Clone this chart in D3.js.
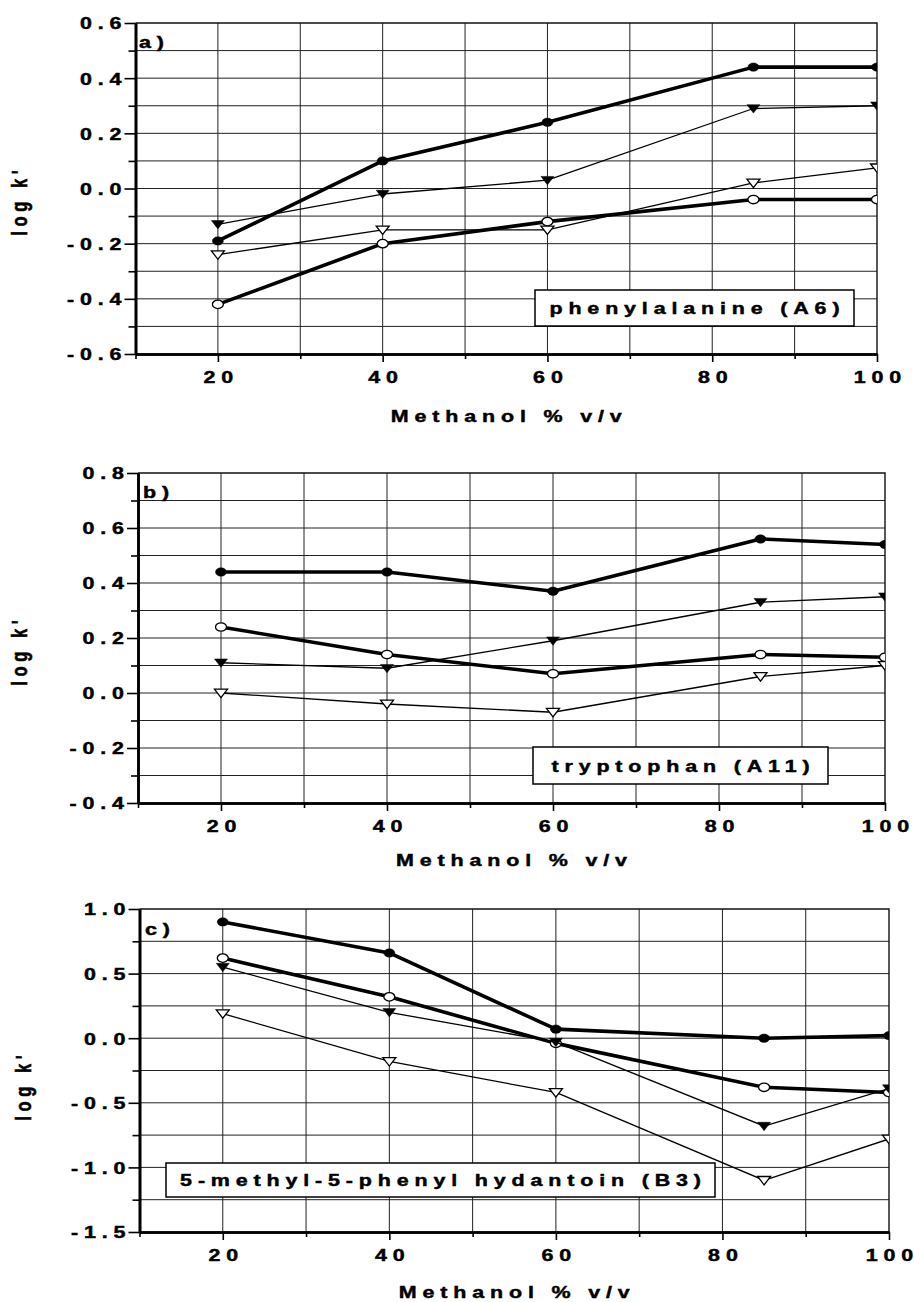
<!DOCTYPE html>
<html>
<head>
<meta charset="utf-8">
<script src="https://cdn.jsdelivr.net/npm/d3@7"></script>
<style>
  body { margin: 0; background: #fff; }
  svg text { font-family: "Liberation Sans", Arial, Helvetica, sans-serif; font-weight: bold; fill: #000; stroke: #000; stroke-width: 0.45px; }
</style>
</head>
<body>
<svg id="chart" width="914" height="1302"></svg>
<script>
// methanol content, % v/v
const methanol = [20, 40, 60, 85, 100];

// a) phenylalanine (A6)
const phenFilledCircle = [-0.19, 0.10, 0.24, 0.44, 0.44];
const phenOpenCircle = [-0.42, -0.20, -0.12, -0.04, -0.04];
const phenFilledTri = [-0.13, -0.02, 0.03, 0.29, 0.30];
const phenOpenTri = [-0.24, -0.15, -0.15, 0.02, 0.075];

// b) tryptophan (A11)
const trpFilledCircle = [0.44, 0.44, 0.37, 0.56, 0.54];
const trpOpenCircle = [0.24, 0.14, 0.07, 0.14, 0.13];
const trpFilledTri = [0.11, 0.09, 0.19, 0.33, 0.35];
const trpOpenTri = [0.00, -0.04, -0.07, 0.06, 0.10];

// c) 5-methyl-5-phenyl hydantoin (B3)
const hydFilledCircle = [0.90, 0.66, 0.07, 0.00, 0.02];
const hydOpenCircle = [0.62, 0.32, -0.04, -0.38, -0.42];
const hydFilledTri = [0.55, 0.20, -0.03, -0.68, -0.39];
const hydOpenTri = [0.19, -0.18, -0.42, -1.10, -0.78];

const xDomain = [10, 100];
const xTicks = [20, 40, 60, 80, 100];
const xMinor = [10, 30, 50, 70, 90];
const xGrid = [20, 30, 40, 50, 60, 70, 80, 90];

const yMajorA = [-0.6, -0.4, -0.2, 0, 0.2, 0.4, 0.6];
const yMinorA = [-0.5, -0.3, -0.1, 0.1, 0.3, 0.5];
const yMajorB = [-0.4, -0.2, 0, 0.2, 0.4, 0.6, 0.8];
const yMinorB = [-0.3, -0.1, 0.1, 0.3, 0.5, 0.7];
const yMajorC = [-1.5, -1.0, -0.5, 0, 0.5, 1.0];
const yMinorC = [-1.25, -0.75, -0.25, 0.25, 0.75];

const xTitle = "Methanol % v/v";
const yTitle = "log  k'";

const panels = [
    {
        letter: "a)", name: "phenylalanine (A6)", yDomain: [-0.6, 0.6], yMajor: yMajorA, yMinor: yMinorA,
        series: [phenFilledCircle, phenOpenCircle, phenFilledTri, phenOpenTri],
        left: 135.5, right: 877, top: 23, bottom: 354,
        box: [535, 290, 319, 36], yTitleX: 27, yTitleY: 203, xTitleY: 422, letterPos: [139, 48]
    },
    {
        letter: "b)", name: "tryptophan (A11)", yDomain: [-0.4, 0.8], yMajor: yMajorB, yMinor: yMinorB,
        series: [trpFilledCircle, trpOpenCircle, trpFilledTri, trpOpenTri],
        left: 138, right: 885, top: 473, bottom: 803,
        box: [533, 747, 295, 37], yTitleX: 27, yTitleY: 653, xTitleY: 866, letterPos: [143, 498]
    },
    {
        letter: "c)", name: "5-methyl-5-phenyl hydantoin (B3)", yDomain: [-1.5, 1.0], yMajor: yMajorC, yMinor: yMinorC,
        series: [hydFilledCircle, hydOpenCircle, hydFilledTri, hydOpenTri],
        left: 139.5, right: 889, top: 909, bottom: 1232,
        box: [166, 1163, 549, 34], yTitleX: 31, yTitleY: 1088, xTitleY: 1298, letterPos: [145, 935]
    }
];

// style per series: filled circle, open circle, filled triangle, open triangle
const styles = [
    { width: 3.6, shape: "circle", fill: "#000" },
    { width: 3.6, shape: "circle", fill: "#fff" },
    { width: 1.3, shape: "tri", fill: "#000" },
    { width: 1.3, shape: "tri", fill: "#fff" }
];

const sx = 1.3;        // wide type
const spacing = 4.5;   // letter spacing before stretch
const fontSize = "16.5px";

const svg = d3.select("#chart");
svg.append("rect").attr("width", 914).attr("height", 1302).attr("fill", "#fff");

const addText = (g, x, y, str, anchor, rotate) => {
    // the type is stretched along the page width, so a rotated title gets it across its height
    const ls = rotate ? 4.6 : spacing
    const t = g.append("text")
        .attr("transform", "translate(" + x + "," + y + ")" + (rotate ? " rotate(-90) scale(1," + sx + ")" : " scale(" + sx + ",1)"))
        .attr("text-anchor", anchor)
        .style("font-size", fontSize)
        .style("letter-spacing", ls + "px")
        .text(str)
    if (anchor === "middle") t.attr("dx", ls / 2)
    if (anchor === "end") t.attr("dx", ls)
    return t
}

panels.forEach((p, pi) => {
    const g = svg.append("g")

    const x = d3.scaleLinear().domain(xDomain).range([p.left, p.right])
    const y = d3.scaleLinear().domain(p.yDomain).range([p.bottom, p.top])

    // grid
    g.append("g").selectAll("line")
        .data(xGrid)
        .enter()
        .append("line")
        .attr("x1", d => x(d)).attr("x2", d => x(d))
        .attr("y1", p.top).attr("y2", p.bottom)
        .attr("stroke", "#222").attr("stroke-width", 1)

    g.append("g").selectAll("line")
        .data(p.yMajor.concat(p.yMinor).filter(d => d > p.yDomain[0] && d < p.yDomain[1]))
        .enter()
        .append("line")
        .attr("x1", p.left).attr("x2", p.right)
        .attr("y1", d => y(d)).attr("y2", d => y(d))
        .attr("stroke", "#222").attr("stroke-width", 1)

    // frame top and right
    g.append("path")
        .attr("d", "M" + p.left + "," + p.top + "H" + p.right + "V" + p.bottom)
        .attr("fill", "none").attr("stroke", "#111").attr("stroke-width", 1.4)

    // annotation box
    const [bx, by, bw, bh] = p.box
    g.append("rect")
        .attr("x", bx).attr("y", by).attr("width", bw).attr("height", bh)
        .attr("fill", "#fff").attr("stroke", "#000").attr("stroke-width", 1.5)
    addText(g, bx + bw / 2, by + bh / 2 + 6, p.name, "middle")

    // series
    const clipId = "clip" + pi
    g.append("clipPath").attr("id", clipId)
        .append("rect")
        .attr("x", p.left - 30).attr("y", p.top - 30)
        .attr("width", p.right - p.left + 30).attr("height", p.bottom - p.top + 60)

    const plot = g.append("g").attr("clip-path", "url(#" + clipId + ")")
    const line = d3.line().x(d => x(d[0])).y(d => y(d[1]))

    p.series.forEach((vals, si) => {
        const st = styles[si]
        const pts = methanol.map((m, i) => [m, vals[i]])
        plot.append("path")
            .datum(pts)
            .attr("d", line)
            .attr("fill", "none")
            .attr("stroke", "#000")
            .attr("stroke-width", st.width)
            .attr("stroke-linejoin", "round")

        const marks = plot.append("g").selectAll("path")
            .data(pts)
            .enter()
            .append("path")
            .attr("transform", d => "translate(" + x(d[0]) + "," + y(d[1]) + ")")
            .attr("fill", st.fill)
            .attr("stroke", "#000")
            .attr("stroke-width", st.fill === "#000" ? 0.5 : 1.3)
        if (st.shape === "circle") {
            marks.attr("d", "M-5.5,0A5.5,4.2 0 1,0 5.5,0A5.5,4.2 0 1,0 -5.5,0Z")
        } else {
            marks.attr("d", "M-6.5,-3.8L6.5,-3.8L0,4.6Z")
        }
    })

    // axes
    const yAxis = d3.axisLeft(y).tickValues(p.yMajor).tickSize(11).tickSizeOuter(0)
        .tickFormat(d => d.toFixed(1))
    const yAxisG = g.append("g").attr("transform", "translate(" + p.left + ",0)").call(yAxis)
    const yMinorG = g.append("g").attr("transform", "translate(" + p.left + ",0)")
        .call(d3.axisLeft(y).tickValues(p.yMinor).tickSize(7).tickSizeOuter(0).tickFormat(""))

    const xAxis = d3.axisBottom(x).tickValues(xTicks).tickSize(8).tickSizeOuter(0)
        .tickFormat(d => String(d))
    const xAxisG = g.append("g").attr("transform", "translate(0," + p.bottom + ")").call(xAxis)
    const xMinorG = g.append("g").attr("transform", "translate(0," + p.bottom + ")")
        .call(d3.axisBottom(x).tickValues(xMinor).tickSize(5).tickSizeOuter(0).tickFormat(""))

    ;[yAxisG, yMinorG, xAxisG, xMinorG].forEach(a => {
        a.select(".domain").attr("stroke", "#000").attr("stroke-width", 2.6)
        a.selectAll(".tick line").attr("stroke", "#000").attr("stroke-width", 1.6)
    })

    yAxisG.selectAll(".tick text")
        .attr("x", -14 / sx).attr("dy", "0.36em").attr("dx", spacing)
        .attr("transform", "scale(" + sx + ",1)")
        .style("font-size", fontSize).style("letter-spacing", spacing + "px")
    xAxisG.selectAll(".tick text")
        .attr("y", 29).attr("dy", 0).attr("dx", spacing / 2)
        .attr("transform", "scale(" + sx + ",1)")
        .style("font-size", fontSize).style("letter-spacing", spacing + "px")
    yAxisG.attr("font-size", null).attr("font-family", null)
    xAxisG.attr("font-size", null).attr("font-family", null)

    // titles
    addText(g, (p.left + p.right) / 2, p.xTitleY, xTitle, "middle")
    addText(g, p.yTitleX, p.yTitleY, yTitle, "middle", true)
    addText(g, p.letterPos[0], p.letterPos[1], p.letter, "start")
})
</script>
</body>
</html>
